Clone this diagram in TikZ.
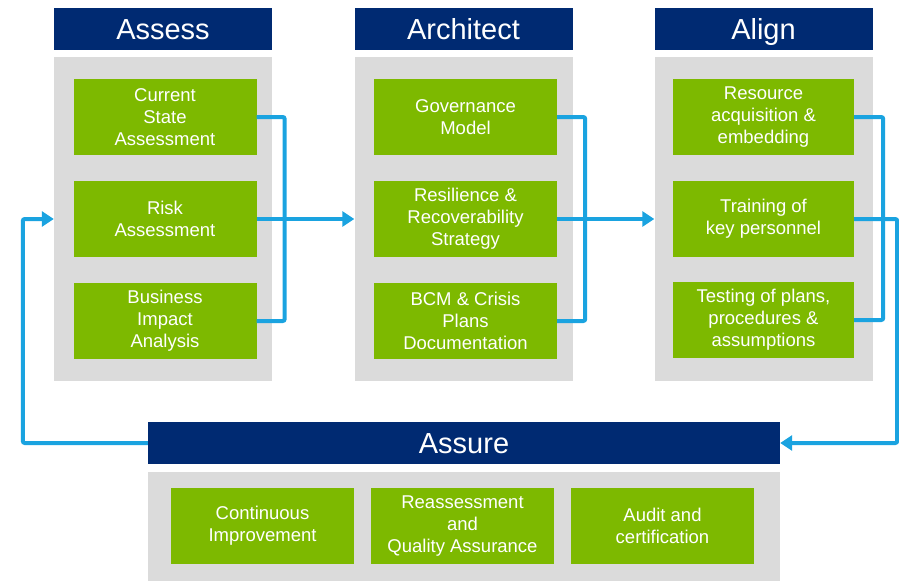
\documentclass[tikz,border=0pt]{standalone}
\usepackage{fontspec}
\setmainfont{Liberation Sans}
\usetikzlibrary{arrows.meta}

\definecolor{navy}{HTML}{002A72}
\definecolor{panelgray}{HTML}{DBDBDB}
\definecolor{leaf}{HTML}{7DB900}
\definecolor{flowblue}{HTML}{1AA3E0}

\tikzset{
  hdr/.style={fill=navy, text=white, inner sep=0pt, minimum width=218pt, minimum height=42pt,
    text height=20.8pt, text depth=0pt, font=\fontsize{29}{30}\selectfont},
  panel/.style={fill=panelgray, inner sep=0pt, minimum width=218pt, minimum height=324pt},
  task/.style={fill=leaf, text=white, inner sep=0pt, minimum width=183pt, minimum height=76pt,
    align=center, font=\fontsize{18.5}{22}\selectfont},
  flow/.style={draw=flowblue, line width=4pt, rounded corners=2pt},
  flowarrow/.style={flow, -{Triangle[length=12pt,width=15pt]}}
}

\begin{document}
\begin{tikzpicture}[x=1pt,y=-1pt]
                \useasboundingbox (0,0) rectangle (899,581);

                % three phase columns
                \node[hdr] (assesshdr) at (163,29) {Assess};
                \node[hdr] (archhdr) at (463.5,29) {Architect};
                \node[hdr] (alignhdr) at (763.5,29) {Align};
                \node[panel] (assesspanel) at (163,219) {};
                \node[panel] (archpanel) at (463.5,219) {};
                \node[panel] (alignpanel) at (763.5,219) {};

                \node[task] (as1) at (165,117) {Current\\State\\Assessment};
                \node[task] (as2) at (165,219) {Risk\\Assessment};
                \node[task] (as3) at (165,321) {Business\\Impact\\Analysis};

                \node[task] (ar1) at (465.5,117) {Governance\\Model};
                \node[task] (ar2) at (465.5,219) {Resilience \&\\Recoverability\\Strategy};
                \node[task] (ar3) at (465.5,321) {BCM \& Crisis\\Plans\\Documentation};

                \node[task, minimum width=181pt] (al1) at (763.5,117) {Resource\\acquisition \&\\embedding};
                \node[task, minimum width=181pt] (al2) at (763.5,219) {Training of\\key personnel};
                \node[task, minimum width=181pt] (al3) at (763.5,320) {Testing of plans,\\procedures \&\\assumptions};

                % assure row
                \node[panel, minimum width=632pt, minimum height=109pt] (assurepanel) at (464,526.5) {};
                \node[hdr, minimum width=632pt] (assurehdr) at (464,443) {Assure};
                \node[task] (at1) at (262.5,526) {Continuous\\Improvement};
                \node[task] (at2) at (462.5,526) {Reassessment\\and\\Quality Assurance};
                \node[task] (at3) at (662.5,526) {Audit and\\certification};

                % connectors
                \draw[flow] (as1.east) -- ++(28,0) |- (as3.east);
                \draw[flowarrow] (as2.east) -- (archpanel.west);
                \draw[flow] (ar1.east) -- ++(28,0) |- (ar3.east);
                \draw[flowarrow] (ar2.east) -- (alignpanel.west);
                \draw[flow] (al1.east) -- ++(29,0) |- (al3.east);
                \draw[flowarrow] (al2.east) -- ++(43,0) |- (assurehdr.east);
                \draw[flowarrow] (assurehdr.west) -- ++(-125,0) |- (assesspanel.west);
            \end{tikzpicture}
\end{document}
